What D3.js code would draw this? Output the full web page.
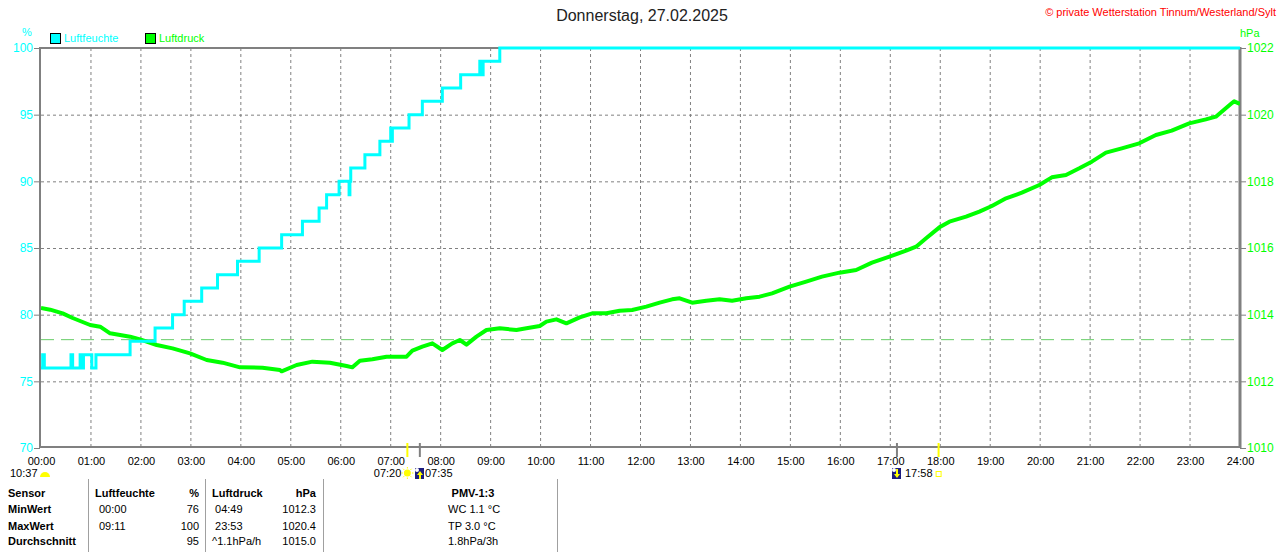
<!DOCTYPE html>
<html>
<head>
<meta charset="utf-8">
<script src="https://cdn.jsdelivr.net/npm/d3@7"></script>
<style>
  body { margin: 0; background: #fff; }
  svg { display: block; font-family: "Liberation Sans", Arial, sans-serif; }
</style>
</head>
<body>
<svg id="chart" width="1280" height="552"></svg>
<script>
// ---- data ----
var title = "Donnerstag, 27.02.2025";
var copyright = "\u00a9 private Wetterstation Tinnum/Westerland/Sylt";
var seriesNames = ["Luftfeuchte", "Luftdruck"];
var hourLabels = ["00:00","01:00","02:00","03:00","04:00","05:00","06:00","07:00","08:00",
  "09:00","10:00","11:00","12:00","13:00","14:00","15:00","16:00","17:00","18:00",
  "19:00","20:00","21:00","22:00","23:00","24:00"];
var humTicks = [70, 75, 80, 85, 90, 95, 100];
var presTicks = [1010, 1012, 1014, 1016, 1018, 1020, 1022];
var refPressure = 1013.25; // dashed line

// Luftfeuchte (%) - step values [time, value]
var humidity = [
  ["00:00",76],["00:02",77],["00:04",76],["00:36",77],["00:38",76],["00:47",77],["00:48",76],
  ["00:51",77],["01:01",76],["01:06",77],["01:47",78],["02:17",79],["02:38",80],["02:52",81],
  ["03:13",82],["03:32",83],["03:56",84],["04:22",85],["04:49",86],["05:14",87],["05:34",88],
  ["05:43",89],["05:58",90],["06:10",89],["06:11",90],["06:12",91],["06:29",92],["06:47",93],
  ["07:00",94],["07:01",93],["07:02",94],["07:22",95],["07:38",96],["08:02",97],["08:24",98],
  ["08:47",99],["08:48",98],["08:51",99],["09:11",100],["24:00",100]
];

// Luftdruck (hPa)
var pressure = [
  ["00:00",1014.2],["00:11",1014.15],["00:26",1014.04],["00:38",1013.9],["00:59",1013.69],
  ["01:11",1013.64],["01:23",1013.44],["01:47",1013.34],["01:59",1013.26],["02:19",1013.09],
  ["02:38",1012.99],["02:59",1012.84],["03:19",1012.64],["03:38",1012.56],["03:59",1012.42],
  ["04:26",1012.41],["04:47",1012.34],["04:49",1012.3],["05:07",1012.49],["05:26",1012.59],
  ["05:47",1012.56],["06:07",1012.46],["06:14",1012.42],["06:23",1012.62],["06:38",1012.66],
  ["06:55",1012.74],["07:19",1012.74],["07:26",1012.92],["07:38",1013.04],["07:50",1013.14],
  ["08:02",1012.94],["08:14",1013.14],["08:23",1013.24],["08:31",1013.1],["08:43",1013.34],
  ["08:55",1013.54],["09:11",1013.59],["09:31",1013.54],["09:43",1013.59],["09:59",1013.66],
  ["10:07",1013.79],["10:19",1013.86],["10:31",1013.74],["10:47",1013.92],["11:02",1014.04],
  ["11:19",1014.04],["11:35",1014.12],["11:50",1014.14],["12:07",1014.24],["12:23",1014.36],
  ["12:38",1014.46],["12:47",1014.49],["13:02",1014.36],["13:19",1014.42],["13:35",1014.46],
  ["13:50",1014.42],["14:07",1014.49],["14:23",1014.54],["14:38",1014.64],["14:59",1014.84],
  ["15:19",1014.99],["15:38",1015.14],["15:59",1015.26],["16:19",1015.34],["16:38",1015.56],
  ["16:59",1015.74],["17:19",1015.92],["17:31",1016.04],["17:43",1016.29],["17:59",1016.62],
  ["18:11",1016.79],["18:31",1016.94],["18:47",1017.09],["19:02",1017.26],["19:19",1017.49],
  ["19:38",1017.66],["19:59",1017.89],["20:14",1018.12],["20:31",1018.19],["20:47",1018.39],
  ["21:02",1018.59],["21:19",1018.86],["21:38",1018.99],["21:59",1019.14],["22:19",1019.39],
  ["22:38",1019.52],["22:59",1019.74],["23:19",1019.86],["23:31",1019.94],["23:38",1020.09],
  ["23:50",1020.34],["23:53",1020.4],["24:00",1020.32]
];

// sun / twilight / moon markers under the time axis
var sunTicks = ["07:20", "17:58"];
var twilightTicks = ["07:35", "17:08"];
var moonTime = "10:37";

// statistics table
var rowLabels = ["Sensor", "MinWert", "MaxWert", "Durchschnitt"];
var humHead = ["Luftfeuchte", "%"];
var humTimes = ["00:00", "09:11", ""];
var humValues = ["76", "100", "95"];
var presHead = ["Luftdruck", "hPa"];
var presTimes = [" 04:49", " 23:53", "^1.1hPa/h"];
var presValues = ["1012.3", "1020.4", "1015.0"];
var pmvHead = "PMV-1:3";
var pmvLines = ["WC 1.1 \u00b0C", "TP 3.0 \u00b0C", "1.8hPa/3h"];

// ---- drawing ----
var cyan = "#00ffff", green = "#00ff00", gray = "#808080";
var svg = d3.select("#chart");

function mins(s) { var p = s.split(":"); return +p[0] * 60 + +p[1]; }

var x = d3.scaleLinear().domain([0, 1440]).range([41, 1240]);
var yH = d3.scaleLinear().domain([70, 100]).range([448, 48]);
var yP = d3.scaleLinear().domain([1010, 1022]).range([448, 48]);

// grid
svg.append("g").selectAll("line").data(hourLabels.slice(1, -1)).enter().append("line")
  .attr("x1", function(d) { return x(mins(d)); }).attr("x2", function(d) { return x(mins(d)); })
  .attr("y1", 48).attr("y2", 448)
  .attr("stroke", gray).attr("stroke-dasharray", "3,3");
svg.append("g").selectAll("line").data(humTicks.slice(1, -1)).enter().append("line")
  .attr("x1", 41).attr("x2", 1240)
  .attr("y1", function(d) { return yH(d) + 0.5; }).attr("y2", function(d) { return yH(d) + 0.5; })
  .attr("stroke", gray).attr("stroke-dasharray", "3,3");

// reference pressure
svg.append("line")
  .attr("x1", 41).attr("x2", 1240)
  .attr("y1", yP(refPressure)).attr("y2", yP(refPressure))
  .attr("stroke", "#66cc66").attr("stroke-dasharray", "13,7");

// frame
svg.append("line").attr("x1", 41).attr("x2", 1240).attr("y1", 48).attr("y2", 48).attr("stroke", gray).attr("stroke-width", 2);
svg.append("line").attr("x1", 41).attr("x2", 1241).attr("y1", 447).attr("y2", 447).attr("stroke", gray).attr("stroke-width", 2);
svg.append("line").attr("x1", 40).attr("x2", 40).attr("y1", 47).attr("y2", 448).attr("stroke", gray).attr("stroke-width", 2);
svg.append("line").attr("x1", 1240).attr("x2", 1240).attr("y1", 47).attr("y2", 448).attr("stroke", gray).attr("stroke-width", 3);

// axes
var axL = svg.append("g").attr("transform", "translate(40,0)")
  .call(d3.axisLeft(yH).tickValues(humTicks).tickSize(6).tickPadding(1));
axL.select(".domain").remove();
axL.selectAll("line").attr("stroke", gray);
axL.selectAll("text").attr("fill", cyan).attr("font-size", 12);

var axR = svg.append("g").attr("transform", "translate(1240,0)")
  .call(d3.axisRight(yP).tickValues(presTicks).tickSize(6).tickPadding(1).tickFormat(d3.format("d")));
axR.select(".domain").remove();
axR.selectAll("line").attr("stroke", gray);
axR.selectAll("text").attr("fill", green).attr("font-size", 12);

var axB = svg.append("g").attr("transform", "translate(0,448)")
  .call(d3.axisBottom(x).tickValues(hourLabels.map(mins)).tickSize(0).tickPadding(9)
    .tickFormat(function(d, i) { return hourLabels[i]; }));
axB.select(".domain").remove();
axB.selectAll("text").attr("fill", "#000").attr("font-size", 11);

// unit labels
svg.append("text").attr("x", 27).attr("y", 36).attr("text-anchor", "middle")
  .attr("fill", cyan).attr("font-size", 11).text("%");
svg.append("text").attr("x", 1240).attr("y", 37)
  .attr("fill", green).attr("font-size", 11).text("hPa");

// title and copyright
svg.append("text").attr("x", 642).attr("y", 21).attr("text-anchor", "middle")
  .attr("fill", "#222").attr("font-size", 16).text(title);
svg.append("text").attr("x", 1276).attr("y", 16).attr("text-anchor", "end")
  .attr("fill", "#ff0000").attr("font-size", 11).text(copyright);

// legend
var legColors = [cyan, green], legX = [50, 145];
seriesNames.forEach(function(n, i) {
  svg.append("rect").attr("x", legX[i] + 0.5).attr("y", 33.5).attr("width", 10).attr("height", 10)
    .attr("fill", legColors[i]).attr("stroke", "#000");
  svg.append("text").attr("x", legX[i] + 14).attr("y", 42).attr("fill", legColors[i])
    .attr("font-size", 11).text(n);
});

// series
var clip = svg.append("clipPath").attr("id", "plot").append("rect")
  .attr("x", 41).attr("y", 46).attr("width", 1199).attr("height", 403);

var lineP = d3.line().x(function(d) { return x(mins(d[0])); }).y(function(d) { return yP(d[1]); });
svg.append("path").attr("d", lineP(pressure)).attr("fill", "none")
  .attr("stroke", green).attr("stroke-width", 4).attr("stroke-linejoin", "round")
  .attr("clip-path", "url(#plot)");

var lineH = d3.line().curve(d3.curveStepAfter)
  .x(function(d) { return x(mins(d[0])); }).y(function(d) { return yH(d[1]); });
svg.append("path").attr("d", lineH(humidity)).attr("fill", "none")
  .attr("stroke", cyan).attr("stroke-width", 3).attr("clip-path", "url(#plot)");

// sun / twilight ticks
sunTicks.forEach(function(t) {
  svg.append("line").attr("x1", x(mins(t))).attr("x2", x(mins(t))).attr("y1", 443).attr("y2", 457)
    .attr("stroke", "#ffff00").attr("stroke-width", 2);
});
twilightTicks.forEach(function(t) {
  svg.append("line").attr("x1", x(mins(t))).attr("x2", x(mins(t))).attr("y1", 443).attr("y2", 457)
    .attr("stroke", gray).attr("stroke-width", 2);
});

var txt = { fill: "#000", size: 11 };
function label(xp, yp, s, anchor) {
  svg.append("text").attr("x", xp).attr("y", yp).attr("text-anchor", anchor || "start")
    .attr("fill", txt.fill).attr("font-size", txt.size).text(s);
}
// moon
label(10, 477, moonTime);
svg.append("path").attr("d", "M40,477 A5,5 0 0 1 50,477 Z").attr("fill", "#ffff00");

// sunrise
var sr = x(mins(sunTicks[0]));
label(sr - 6, 477, sunTicks[0], "end");
var sun = svg.append("g").attr("transform", "translate(" + sr + ",473)");
sun.append("circle").attr("r", 3.5).attr("fill", "#ffff00");
d3.range(8).forEach(function(k) {
  var a = k * Math.PI / 4;
  sun.append("line").attr("x1", 4.5 * Math.cos(a)).attr("y1", 4.5 * Math.sin(a))
    .attr("x2", 6 * Math.cos(a)).attr("y2", 6 * Math.sin(a)).attr("stroke", "#ffff00");
});
function twilightIcon(cx, up) {
  var g = svg.append("g").attr("transform", "translate(" + cx + ",468)");
  g.append("rect").attr("width", 9).attr("height", 11).attr("fill", "#1c1c80");
  g.append("circle").attr("cx", 2).attr("cy", 2).attr("r", 2).attr("fill", "#fff");
  g.append("path").attr("d", up ? "M5,3 L8,7 L6,7 L6,11 L4,11 L4,7 L2,7 Z" : "M5,10 L8,6 L6,6 L6,1 L4,1 L4,6 L2,6 Z")
    .attr("fill", "#ffff00");
}
twilightIcon(415, true);
label(425, 477, twilightTicks[0]);

// sunset
twilightIcon(892, false);
var ss = x(mins(sunTicks[1]));
label(905, 477, sunTicks[1]);
svg.append("rect").attr("x", ss - 2.5).attr("y", 471.5).attr("width", 5).attr("height", 5)
  .attr("fill", "none").attr("stroke", "#ffff00");

// table
[88, 205, 323, 557].forEach(function(xp) {
  svg.append("line").attr("x1", xp + 0.5).attr("x2", xp + 0.5).attr("y1", 479).attr("y2", 552)
    .attr("stroke", "#a0a0a0");
});
var rowY = [497, 513, 530, 545];
function cell(xp, yp, s, bold, anchor) {
  svg.append("text").attr("x", xp).attr("y", yp).attr("text-anchor", anchor || "start")
    .attr("fill", "#000").attr("font-size", 11).attr("font-weight", bold ? "bold" : "normal")
    .attr("xml:space", "preserve").style("white-space", "pre").text(s);
}
rowLabels.forEach(function(r, i) { cell(8, rowY[i], r, true); });
cell(95, rowY[0], humHead[0], true);
cell(199, rowY[0], humHead[1], true, "end");
cell(212, rowY[0], presHead[0], true);
cell(316, rowY[0], presHead[1], true, "end");
cell(473, rowY[0], pmvHead, true, "middle");
humTimes.forEach(function(s, i) { cell(99, rowY[i + 1], s); });
humValues.forEach(function(s, i) { cell(199, rowY[i + 1], s, false, "end"); });
presTimes.forEach(function(s, i) { cell(212, rowY[i + 1], s); });
presValues.forEach(function(s, i) { cell(316, rowY[i + 1], s, false, "end"); });
pmvLines.forEach(function(s, i) { cell(448, rowY[i + 1], s); });
</script>
</body>
</html>
